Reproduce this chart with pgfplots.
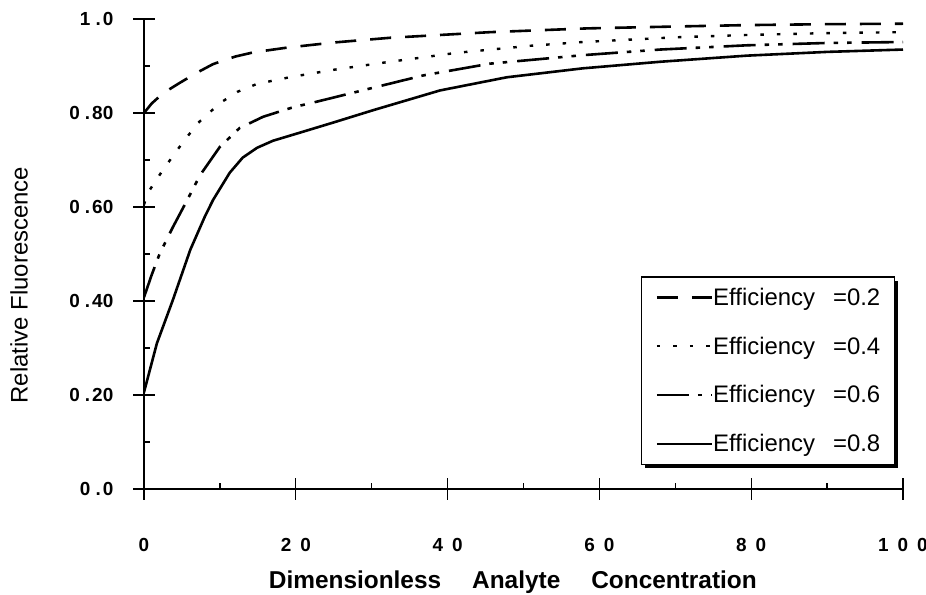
\documentclass[border=0pt]{standalone}
\usepackage{fontspec}
\setmainfont{Liberation Sans}
\usepackage{pgfplots}
\pgfplotsset{compat=1.18}
\usetikzlibrary{shadows}
\makeatletter
\tikzset{nopre/.code={\let\tikz@preactions\pgfutil@empty}}
\makeatother
\newcommand{\yl}[2]{\makebox[0pt][r]{#1\hspace{5bp}.\hspace{2bp}#2\hspace{19bp}}}

\pgfplotstableread{
x y
0 0.800
1 0.820
2.5 0.842
4.7 0.864
7 0.886
9.1 0.904
12 0.920
14.4 0.929
18.8 0.939
25 0.950
32.4 0.960
45.6 0.972
58.4 0.980
70 0.984
79.4 0.987
90 0.989
100 0.990
}\effA
\pgfplotstableread{
x y
0 0.605
0.5 0.630
2.5 0.679
4.6 0.726
7 0.777
10 0.821
12.3 0.845
14.9 0.862
19.5 0.877
25 0.892
31.5 0.907
41.2 0.928
50.9 0.943
57.8 0.951
70 0.961
79.4 0.966
90 0.970
100 0.972
}\effB
\pgfplotstableread{
x y
0 0.408
1 0.455
2.1 0.502
3.8 0.557
5.7 0.615
7.4 0.668
10 0.728
12.6 0.768
15.7 0.792
19.6 0.812
23 0.825
28 0.845
36.8 0.880
45.6 0.905
57.8 0.923
68 0.935
79.4 0.944
90 0.949
100 0.951
}\effC
\pgfplotstableread{
x y
0 0.206
1.7 0.310
3.8 0.402
6.1 0.509
8 0.579
9.1 0.615
11.3 0.673
13 0.705
14.9 0.726
17 0.741
20.3 0.757
25 0.780
30.2 0.806
39 0.848
47.8 0.876
57.8 0.895
68 0.909
79.4 0.922
90 0.930
100 0.935
}\effD

\begin{document}
\begin{tikzpicture}
\begin{axis}[
  at={(0,0)}, anchor=south west,
  scale only axis, width=759bp, height=470bp,
  xmin=0, xmax=100, ymin=0, ymax=1,
  axis lines*=left,
  axis line style={line width=1.6bp, black},
  xtick={0,20,40,60,80,100},
  minor xtick={10,30,50,70,90},
  ytick={0,0.2,0.4,0.6,0.8,1.0},
  minor ytick={0.1,0.3,0.5,0.7,0.9},
  xticklabels={0, 2\hspace{9bp}0, 4\hspace{9bp}0, 6\hspace{9bp}0, 8\hspace{9bp}0, 1\hspace{9bp}0\hspace{9bp}0},
  yticklabels={\yl{0}{0}, \yl{0}{20}, \yl{0}{40}, \yl{0}{60}, \yl{0}{80}, \yl{1}{0}},
  tick align=center,
  major tick length=22bp,
  minor tick length=6bp,
  every tick/.style={black, line width=1.4bp},
  every minor x tick/.append style={yshift=3bp},
  every minor y tick/.append style={xshift=3bp},
  /pgf/number format/assume math mode=true,
  tick label style={font=\bfseries\fontsize{19}{19}\selectfont},
  yticklabel style={anchor=east, inner sep=0pt},
  xticklabel style={anchor=north, inner sep=0pt, yshift=-38bp},
  xlabel={Dimensionless\hspace{31bp}Analyte\hspace{31bp}Concentration},
  xlabel style={at={(axis description cs:0.486,0)}, anchor=north, inner sep=0pt, yshift=-82bp, font=\bfseries\fontsize{24.5}{24.5}\selectfont},
  ylabel={Relative Fluorescence},
  ylabel style={at={(axis description cs:-0.1647,0.434)}, anchor=center, inner sep=0pt, font=\fontsize{24}{24}\selectfont},
  legend cell align=left,
  legend image code/.code={\draw[nopre, #1] (0bp,0bp) -- (55bp,0bp);},
  legend style={at={(0.9895,0.051)}, anchor=south east, draw=black, line width=1.5bp, fill=white,
    drop shadow={shadow xshift=3.5bp, shadow yshift=-3.5bp, fill=black, opacity=1},
    font=\fontsize{24}{24}\selectfont, nodes={inner sep=0pt}, column sep=0pt, row sep=30bp,
    inner xsep=14bp, inner ysep=11bp},
]
\addplot[black, line width=2.6bp, dash pattern=on 21bp off 14bp] table[x=x,y=y] {\effA};
\addlegendentry{Efficiency\hspace{18bp}=0.2}
\addplot[black, line width=2.4bp, dash pattern=on 3.5bp off 13bp] table[x=x,y=y] {\effB};
\addlegendentry{Efficiency\hspace{18bp}=0.4}
\addplot[black, line width=2.6bp, dash pattern=on 32bp off 9bp on 4.5bp off 9bp on 4.5bp off 10bp] table[x=x,y=y] {\effC};
\addlegendentry{Efficiency\hspace{18bp}=0.6}
\addplot[black, line width=2.6bp] table[x=x,y=y] {\effD};
\addlegendentry{Efficiency\hspace{18bp}=0.8}
\end{axis}
\pgfresetboundingbox
\path[use as bounding box] (-144bp,-106bp) rectangle (782bp,489bp);
\end{tikzpicture}
\end{document}
